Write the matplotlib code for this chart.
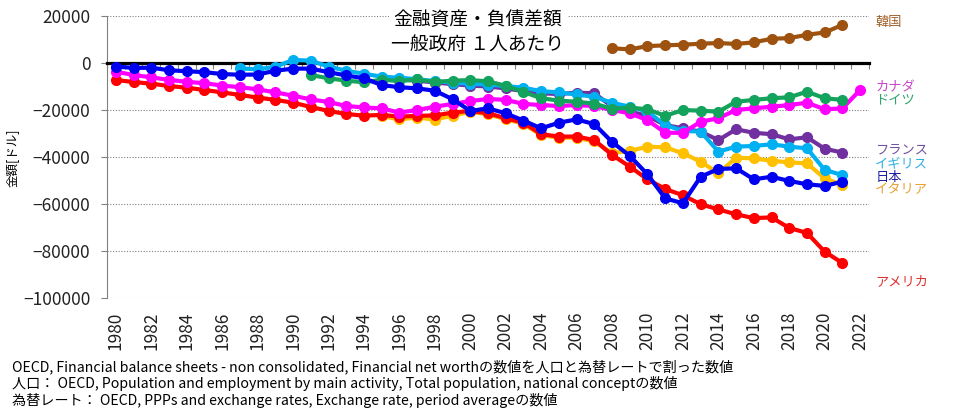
import matplotlib
matplotlib.use('Agg')
import matplotlib.pyplot as plt
import numpy as np

plt.rcParams['font.family'] = ['Noto Sans CJK JP', 'DejaVu Sans']

# 1人あたり 金融資産・負債差額 (一般政府, ドル)
years = list(range(1980, 2023))
nan = np.nan


def pad(start, vals):
    # fill the years outside the series with nan
    out = [nan] * len(years)
    for i, v in enumerate(vals):
        out[start - years[0] + i] = v
    return out


usa = pad(1980, [-7200, -8100, -8800, -9800, -10500, -11500, -12500, -13600, -14700, -15700,
                 -16900, -18700, -20400, -21700, -22400, -22100, -22800, -22500, -22300, -21100,
                 -20400, -21400, -23500, -25400, -30300, -31300, -31300, -32800, -39100, -44100,
                 -49500, -53600, -56300, -60100, -62300, -64400, -66000, -65700, -70200, -72300,
                 -80300, -85100])
japan = pad(1980, [-1500, -2100, -2000, -3100, -3500, -3900, -4700, -5000, -4900, -3300,
                   -2400, -2400, -3900, -5300, -6500, -9400, -10300, -10800, -11800, -15400,
                   -20400, -19300, -21400, -24500, -27800, -25400, -24000, -26000, -33600, -39500,
                   -47400, -57600, -59700, -48400, -45100, -44800, -49500, -48400, -50200, -51600,
                   -52300, -50500])
canada = pad(1980, [-3700, -5100, -6100, -7200, -8000, -8600, -9600, -10300, -11200, -12500,
                    -13900, -15500, -16600, -18300, -18900, -19300, -21100, -20000, -18600, -17400,
                    -16200, -15300, -15700, -17400, -17900, -18300, -17900, -18300, -20000, -21400,
                    -24300, -29700, -29700, -25000, -23500, -20000, -19300, -18600, -17900, -16900,
                    -19700, -19300, -11500])
germany = pad(1991, [-5100, -6500, -7500, -8200, -7100, -7700, -7000, -8100, -7500, -7300,
                     -7800, -9700, -12300, -15000, -16000, -16500, -17300, -19500, -19000, -19700,
                     -22500, -20000, -20300, -20700, -16500, -15700, -15000, -14600, -12200, -15000,
                     -15700])
uk = pad(1987, [-2300, -2700, -1600, 1300, 1000, -1500, -3300, -4600, -5800, -6300,
                -6900, -7700, -8400, -8800, -9200, -9800, -10500, -12000, -12500, -13400,
                -14400, -16900, -18600, -20700, -26400, -28900, -29200, -37700, -35600, -35300,
                -34600, -35600, -36300, -45500, -47700])
france = pad(1995, [-6500, -7000, -7500, -8300, -9000, -9600, -10000, -10800, -12000, -12900,
                    -13200, -12600, -12900, -18500, -20700, -22500, -26400, -27800, -29200, -32800,
                    -28200, -29700, -30300, -32500, -31600, -36500, -38100])
italy = pad(1995, [-22600, -24000, -23200, -24100, -22400, -20800, -21800, -23900, -25900, -30700,
                   -31800, -31800, -33400, -38300, -37400, -35600, -35900, -38400, -42000, -46900,
                   -40300, -40600, -41600, -42300, -42700, -49100, -51900])
korea = pad(2008, [6250, 5800, 7200, 7500, 7800, 8200, 8500, 8100, 8800, 10300,
                   10600, 12000, 13000, 16200])

# drawing order: first is at the bottom
series = [
    ('イタリア', italy, '#FFC000', '#E8A030', -54000),
    ('アメリカ', usa, '#FF0000', '#E03030', -93000),
    ('フランス', france, '#7030A0', '#7050A0', -37000),
    ('イギリス', uk, '#00B0F0', '#30B0E0', -43300),
    ('カナダ', canada, '#FF00FF', '#C848C8', -10500),
    ('ドイツ', germany, '#14A35C', '#2EA36A', -15600),
    ('日本', japan, '#0000F0', '#2020A0', -48700),
    ('韓国', korea, '#9E5210', '#A0602A', 17400),
]

fig = plt.figure(figsize=(9.78, 4.12), dpi=100)
ax = fig.add_axes([107 / 978, 1 - 298 / 412, 762 / 978, 282 / 412])

for i, (name, vals, col, tcol, ty) in enumerate(series):
    ax.plot(years, vals, color=col, lw=3, marker='o', ms=7, zorder=3 + i)
    ax.text(2022.85, ty, name, color=tcol, fontsize=9.5, ha='left', va='center', clip_on=False)

ax.set_xlim(1979.5, 2022.5)
ax.set_ylim(-100000, 20000)
ax.set_yticks(range(-100000, 20001, 20000))
ax.tick_params(axis='y', labelsize=12.5, length=4, color='#808080', pad=8, labelcolor='#222222')
ax.yaxis.grid(True, ls=(0, (1, 1.5)), color='#808080', lw=0.8)
ax.set_axisbelow(True)

for s in ['top', 'right']:
    ax.spines[s].set_visible(False)
ax.spines['left'].set_color('#808080')
ax.spines['bottom'].set_position(('data', 0))
ax.spines['bottom'].set_color('black')
ax.spines['bottom'].set_linewidth(2.3)
ax.spines['bottom'].set_zorder(2.5)

# tick marks on the zero line at each year boundary
ax.set_xticks(np.arange(1979.5, 2023, 1))
ax.set_xticklabels([])
ax.tick_params(axis='x', length=4, color='#808080', direction='out')

sec = ax.secondary_xaxis('bottom')
sec.set_xticks(years[::2])
sec.set_xticklabels([str(y) for y in years[::2]], rotation=90)
sec.tick_params(length=0, labelsize=12.5, pad=10, labelcolor='#222222')
sec.spines['bottom'].set_visible(False)

fig.text(478 / 978, 1 - 32 / 412, '金融資産・負債差額\n一般政府 １人あたり', ha='center', va='center',
         fontsize=13.5, linespacing=1.25, zorder=20,
         bbox=dict(facecolor='white', edgecolor='none', pad=2))

fig.text(12 / 978, 1 - 158 / 412, '金額[ドル]', rotation=90, ha='center', va='center', fontsize=9)

footer = [
    'OECD, Financial balance sheets - non consolidated, Financial net worthの数値を人口と為替レートで割った数値',
    '人口： OECD, Population and employment by main activity, Total population, national conceptの数値',
    '為替レート： OECD, PPPs and exchange rates, Exchange rate, period averageの数値',
]
for k, line in enumerate(footer):
    fig.text(12 / 978, 1 - (367 + 16.5 * k) / 412, line, ha='left', va='center', fontsize=10.2)

fig.savefig('out.png', dpi=100)
